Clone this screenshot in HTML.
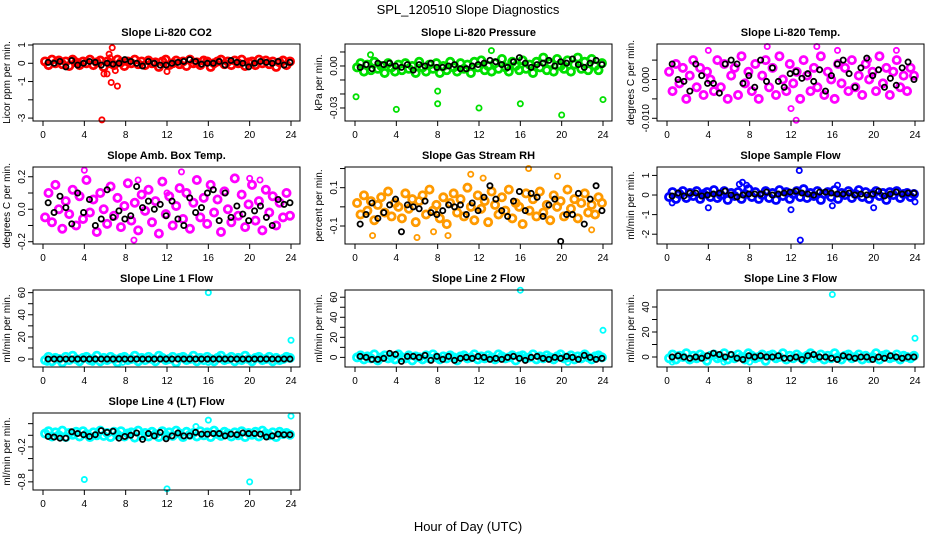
<!DOCTYPE html>
<html><head><meta charset="utf-8"><style>
html,body{margin:0;padding:0;background:#fff;}
svg{display:block;font-family:"Liberation Sans",Arial,sans-serif;}
</style></head><body>
<svg id="chart" width="936" height="540" viewBox="0 0 936 540" xmlns="http://www.w3.org/2000/svg">
<rect width="936" height="540" fill="#fff"/>
<text x="468" y="14" text-anchor="middle" font-size="13">SPL_120510  Slope Diagnostics</text>
<text x="468" y="531" text-anchor="middle" font-size="13">Hour of Day (UTC)</text>
</svg>
<script>
const hourTicks=[0,4,8,12,16,20,24];
// Panel 1 CO2
const co2Vals=[0.1,-0.1,0.2,0,0.15,-0.05,0.1,-0.15,0.2,0.05,-0.1,0.1,0,0.2,-0.1,0.05,0.15,-0.2,0.1,0,-0.1,0.2,0.05,-0.15,0.1,0,0.2,-0.05,0.1,-0.1,0.15,0,0.05,-0.2,0.1,0.2,-0.1,0,0.15,-0.05,0.1,-0.15,0.2,0,0.05,-0.1,0.15,0.1,-0.2,0,0.1,0.2,-0.05,0.1,-0.1,0.15,0,0.2,-0.15,0.05,0.1,-0.1,0.2,0,0.15,-0.05,0.1,-0.2,0.05,0.15,-0.1,0.1];
const co2Black=[0.05,0,0.1,-0.2,0.15,-0.1,0,0.1,0.05,-0.1,0,-0.05,0,0.2,0.1,0,-0.15,0.1,0,-0.1,-0.1,0,0.05,0.1,0.2,0.1,-0.05,0,0,0.1,-0.1,0.15,0.05,0,-0.2,0,0.1,0.05,0,0.1,-0.1,0.05];
const co2OutH=[5.7,6.6,7.2,6.7,6.4,5.9,6.2,12,6.5,7.0];
const co2OutV=[-3.1,-1.05,-1.25,0.85,0.5,-0.58,-0.58,-0.45,0.3,-0.4];
// Panel 2 pressure
const presVals=[-0.001,0.002,-0.004,0.001,-0.003,0.003,-0.002,0,-0.005,0.002,-0.001,-0.004,0.001,-0.003,0.002,-0.002,0,-0.005,0.003,-0.001,-0.004,0.001,-0.002,0.002,-0.005,0,-0.003,0.003,-0.001,-0.004,0.002,-0.002,0.001,-0.005,0.003,-0.001,0.004,-0.003,0,-0.004,0.002,-0.002,0.005,-0.001,-0.004,0.003,0,-0.003,0.004,-0.002,0.001,-0.005,0.003,-0.001,0.006,-0.003,0.002,-0.004,0.005,0,-0.002,0.004,-0.004,0.001,0.006,-0.002,0.003,-0.003,0.005,0,-0.003,0.002];
const presBlack=[-0.001,0.001,-0.002,0.002,0.001,0.002,0,-0.001,0.001,-0.003,0.001,0,0.002,-0.001,-0.001,0,0.001,-0.002,-0.002,0,0.001,0.002,0.004,0.003,0.001,-0.001,0.003,0.006,0.002,-0.001,0.001,0.002,0.004,0,0.003,0.002,0.005,0.001,-0.001,0.002,0.004,0.001];
const presOutH=[0.1,4,8,8,12,16,20,24,1.5,13.2];
const presOutV=[-0.022,-0.031,-0.018,-0.027,-0.03,-0.027,-0.035,-0.024,0.008,0.011];
// Panel 3 Li-820 temp
const tempVals=[0.002,-0.003,0.004,-0.001,0.003,-0.005,0.001,0.005,-0.002,0.003,-0.004,0.002,0,-0.003,0.005,-0.002,0.004,-0.005,0.001,0.003,-0.004,0.006,-0.001,0.002,-0.003,0.004,-0.005,0.001,0.005,-0.002,0.003,-0.004,0.006,0,-0.003,0.004,-0.001,0.002,-0.005,0.005,0.001,-0.003,0.003,-0.002,0.006,-0.004,0.002,0,-0.005,0.004,-0.001,0.003,-0.003,0.005,-0.002,0.001,-0.004,0.004,0,0.002,-0.003,0.006,-0.001,0.003,-0.004,0.002,0.005,-0.002,0.001,-0.003,0.003,0.001];
const tempBlack=[0.004,0,-0.0005,-0.003,0.004,0.001,-0.001,-0.001,-0.0035,0.004,0.005,0.004,-0.001,0.001,-0.002,0.005,-0.0005,0.003,-0.0005,-0.002,0.0015,0.002,0.0003,0.0015,-0.0005,0.0025,-0.003,0.001,0.004,0.005,0.0015,-0.002,0.003,0.0055,0.001,0.0025,-0.002,0.0003,-0.0015,0.003,0.0045,0];
const tempOutH=[9.7,12,12.5,4,14.5,19.5,22.2,16.5];
const tempOutV=[0.0085,-0.0075,-0.0105,0.0075,0.0085,0.005,0.0075,0.0075];
// Panel 4 amb box temp
const ambVals=[-0.05,0.1,-0.08,0.15,0,-0.12,0.05,-0.03,0.12,-0.1,0.08,-0.06,0.18,-0.02,0.06,-0.14,0.1,0,-0.09,0.14,-0.04,0.07,-0.11,0.02,0.16,-0.07,0.04,-0.13,0.09,-0.01,0.12,-0.08,0.05,-0.15,0.17,-0.03,0.08,-0.1,0.02,0.13,-0.06,0.1,-0.12,0.04,0.18,-0.05,0.07,-0.09,0.15,-0.02,0.06,-0.14,0.11,0,-0.08,0.19,-0.04,0.09,-0.11,0.03,0.15,-0.07,0.05,-0.13,0.12,-0.02,0.08,-0.1,0.04,-0.05,0.1,-0.04];
const ambBlack=[0.04,-0.02,0.08,0.01,-0.09,0.1,-0.02,0.06,-0.1,-0.06,0.12,-0.05,-0.01,-0.06,-0.04,0.14,0.01,0.05,0,0.03,-0.04,0.05,-0.06,-0.1,0.07,-0.02,0.01,0.1,0.12,-0.07,0.1,-0.05,0.02,-0.03,-0.07,-0.01,0.02,-0.05,-0.1,0.06,0.03,0.04];
const ambOutH=[4,8.8,9.2,12,20,21,13.4];
const ambOutV=[0.24,-0.19,0.18,0.1,0.19,0.18,0.23];
// Panel 5 gas stream RH
const rhVals=[0.02,-0.04,0.06,-0.02,0.03,-0.07,0.01,0.05,-0.03,0.08,-0.05,0.02,0,-0.06,0.07,-0.01,0.04,-0.08,0.03,0.06,-0.04,0.09,-0.02,0.01,-0.06,0.05,-0.09,0.02,0.07,-0.03,0.04,-0.05,0.1,0,-0.07,0.06,-0.01,0.03,-0.08,0.08,0.01,-0.04,0.05,-0.02,0.09,-0.06,0.02,0,-0.09,0.07,-0.02,0.04,-0.05,0.08,-0.03,0.01,-0.07,0.06,0,0.03,-0.05,0.09,-0.01,0.04,-0.06,0.02,0.07,-0.03,0.01,-0.04,0.05,0.02];
const rhBlack=[-0.09,-0.04,0.02,-0.06,-0.03,0.01,0.04,-0.13,0.01,0,-0.01,0.03,-0.03,-0.04,-0.02,0.01,0,0.01,-0.04,0.02,-0.02,0.05,0.11,0.04,-0.02,-0.05,0.03,0.08,-0.02,0.07,0.05,-0.05,0.01,0.04,-0.18,-0.04,-0.04,0.07,-0.09,0.04,0.11,-0.02];
const rhOutH=[1.7,6,7.6,9,11.2,16.8,12.4,19.6,22.9];
const rhOutV=[-0.15,-0.16,-0.13,-0.15,0.17,0.2,0.15,0.16,-0.12];
// Panel 6 sample flow
const sfVals=[-0.1,0.15,-0.2,0.05,0.2,-0.15,0.1,-0.05,0.2,-0.2,0.05,0.15,-0.1,0.25,-0.15,0,0.2,-0.25,0.1,-0.05,0.15,-0.2,0.05,0.3,-0.1,0.15,-0.2,0,0.2,-0.15,0.1,-0.25,0.25,-0.05,0.15,-0.2,0.05,0.2,-0.1,0.3,-0.15,0.1,-0.05,0.2,-0.25,0.05,0.15,-0.1,0.25,-0.2,0.1,0,0.2,-0.15,0.05,0.25,-0.1,0.15,-0.2,0.05,0.2,-0.05,0.1,-0.25,0.15,0,0.2,-0.15,0.05,0.1,-0.1,0.05];
const sfBlack=[-0.05,0.1,-0.05,0.1,0.1,-0.05,0,0.05,0.1,0.2,0,-0.1,0,0.05,0.05,0.05,0.15,0,0.05,0.1,0.15,0.2,0.1,0.05,0,0.15,0.15,0.1,0.05,0.05,0.1,0,0.05,0,0.05,0.2,-0.05,0.05,0.15,0.05,0.1,0.1];
const sfOutH=[12.8,12.9,4,7,7.3,7.7,12,16,20,16.5,24,0.5];
const sfOutV=[1.25,-2.3,-0.65,0.55,0.65,0.5,-0.75,-0.55,-0.65,0.5,-0.35,-0.4];
// Panel 7 line 1 flow
const l1Vals=[-1,2,-2,1,0,-3,2,-1,3,0,-2,1,2,-1,0,3,-2,1,-1,2,0,-3,1,2,-1,0,3,-2,1,-1,2,0,-2,3,1,-1,0,2,-3,1,2,-1,0,3,-2,1,-1,2,0,-2,1,3,-1,0,2,-2,1,-1,3,0,-2,1,2,-1,0,2,-2,1,-1,0,2,1];
const l1Black=[0,0,0,0,0,0,0,0,0,0,0,0,0,0,0,0,0,0,0,0,0,0,0,0,0,0,0,0,0,0,0,0,0,0,0,0,0,0,0,0,0,0];
const l1OutH=[16,24,4.8,7.7,16,0.4];
const l1OutV=[60,17,-3,-3,-3,-3];
// Panel 8 line 2 flow
const l2Vals=[0,2,-2,1,-1,3,-3,0,2,-1,1,-2,3,0,-1,2,-3,1,0,-2,2,-1,3,0,-2,1,-1,2,0,-3,1,2,-1,0,3,-2,1,-1,2,0,-2,3,1,-1,0,2,-3,1,2,-1,0,3,-2,1,-1,2,0,-2,1,3,-1,0,2,-2,1,-1,3,0,-2,1,2,0];
const l2Black=[1,0,-2,-2,-1,4,3,-4,1,1,0,2,-3,1,-2,1,-3,-1,0,-1,1,0,-2,-1,-2,0,1,-1,-3,0,1,-1,-2,0,-1,1,0,-2,2,0,-2,-1];
const l2OutH=[16,24,20.6];
const l2OutV=[67,27,-5];
// Panel 9 line 3 flow
const l3Vals=[-1,2,-2,1,0,3,-2,1,-1,2,0,-3,1,2,-1,0,3,-2,1,-1,2,0,-2,3,1,-1,0,2,-3,1,2,-1,0,3,-2,1,-1,2,0,-2,1,3,-1,0,2,-2,1,-1,3,0,-2,1,2,-1,0,2,-2,1,-1,0,3,-2,1,2,-1,0,2,-2,1,0,-1,1];
const l3Black=[0,1,0,-1,0,-1,1,3,2,0,2,-1,-2,1,0,1,0,0,1,-1,-1,0,-2,1,2,0,0,-1,-2,1,0,-1,0,0,-2,0,-1,1,0,-1,0,0];
const l3OutH=[16,24,5.5,8,0.5];
const l3OutV=[50,15,-4,-4,-4];
// Panel 10 line 4 flow
const l4Vals=[0.03,0.07,-0.02,0.05,0,0.08,-0.03,0.04,0.01,0.06,-0.02,0.07,0.02,-0.03,0.05,0,0.08,-0.01,0.04,-0.03,0.06,0.01,0.07,-0.02,0.03,0.05,-0.04,0.08,0,0.04,-0.02,0.06,0.02,-0.03,0.07,0,0.05,-0.01,0.08,0.03,-0.03,0.06,0.01,0.04,-0.02,0.07,0,0.05,-0.03,0.08,0.02,-0.01,0.06,0.03,-0.02,0.05,0,0.07,-0.03,0.04,0.01,0.06,-0.02,0.08,0.03,0,0.05,-0.03,0.06,0.02,0.04,0.01];
const l4Black=[-0.02,-0.03,-0.05,-0.05,0.06,0.03,0.01,-0.02,0.01,0.08,0.05,0.07,-0.05,-0.02,0,0.04,-0.07,0.03,-0.01,0.05,-0.06,-0.01,0.04,-0.01,-0.01,0.05,0.02,0.02,0.03,0.03,-0.01,0.02,0.01,0.04,0.03,0.03,0.02,-0.03,-0.01,0.02,0.01,0.01];
const l4OutH=[4,12,16,20,24,14.8];
const l4OutV=[-0.76,-0.92,0.26,-0.8,0.33,0.15];

const NS='http://www.w3.org/2000/svg';
const svg=document.getElementById('chart');
function mk(tag,attrs,parent){const e=document.createElementNS(NS,tag);for(const k in attrs)e.setAttribute(k,attrs[k]);(parent||svg).appendChild(e);return e;}

const panels=[
 {col:0,row:0,title:'Slope Li-820 CO2',ylab:'Licor ppm per min.',ymin:-3.16,ymax:1.055,ticks:[1,0,-1,-2,-3],labels:['1','0','-1','','-3'],color:'#ff0000',vals:co2Vals,blk:co2Black,oh:co2OutH,ov:co2OutV},
 {col:1,row:0,title:'Slope Li-820 Pressure',ylab:'kPa per min.',ymin:-0.0393,ymax:0.0157,ticks:[0.01,0,-0.01,-0.02,-0.03],labels:['','0.00','','','-0.03'],color:'#00e000',vals:presVals,blk:presBlack,oh:presOutH,ov:presOutV},
 {col:2,row:0,title:'Slope Li-820 Temp.',ylab:'degrees C per min.',ymin:-0.0107,ymax:0.00915,ticks:[0.005,0,-0.005,-0.01],labels:['','0.000','','-0.010'],color:'#ff00ff',vals:tempVals,blk:tempBlack,oh:tempOutH,ov:tempOutV},
 {col:0,row:1,title:'Slope Amb. Box Temp.',ylab:'degrees C per min.',ymin:-0.214,ymax:0.26,ticks:[0.2,0.1,0,-0.1,-0.2],labels:['0.2','','0.0','','-0.2'],color:'#ff00ff',vals:ambVals,blk:ambBlack,oh:ambOutH,ov:ambOutV},
 {col:1,row:1,title:'Slope Gas Stream RH',ylab:'percent per min.',ymin:-0.194,ymax:0.208,ticks:[0.2,0.1,0,-0.1],labels:['','0.1','','-0.1'],color:'#ff9a00',vals:rhVals,blk:rhBlack,oh:rhOutH,ov:rhOutV},
 {col:2,row:1,title:'Slope Sample Flow',ylab:'ml/min per min.',ymin:-2.5,ymax:1.43,ticks:[1,0,-1,-2],labels:['1','0','-1','-2'],color:'#0000ff',vals:sfVals,blk:sfBlack,oh:sfOutH,ov:sfOutV},
 {col:0,row:2,title:'Slope Line 1 Flow',ylab:'ml/min per min.',ymin:-7.2,ymax:62.4,ticks:[0,10,20,30,40,50,60],labels:['0','','20','','40','','60'],color:'#00ffff',vals:l1Vals,blk:l1Black,oh:l1OutH,ov:l1OutV},
 {col:1,row:2,title:'Slope Line 2 Flow',ylab:'ml/min per min.',ymin:-9.6,ymax:67.2,ticks:[0,10,20,30,40,50,60],labels:['0','','20','','40','','60'],color:'#00ffff',vals:l2Vals,blk:l2Black,oh:l2OutH,ov:l2OutV},
 {col:2,row:2,title:'Slope Line 3 Flow',ylab:'ml/min per min.',ymin:-8,ymax:53.6,ticks:[0,10,20,30,40],labels:['0','','20','','40'],color:'#00ffff',vals:l3Vals,blk:l3Black,oh:l3OutH,ov:l3OutV},
 {col:0,row:3,title:'Slope Line 4 (LT) Flow',ylab:'ml/min per min.',ymin:-0.94,ymax:0.383,ticks:[0.2,0,-0.2,-0.4,-0.6,-0.8],labels:['','','-0.2','','','-0.8'],color:'#00ffff',vals:l4Vals,blk:l4Black,oh:l4OutH,ov:l4OutV}
];

panels.forEach((p,pi)=>{
  const bx=33+p.col*312, bw=267, by=44+p.row*123, bh=77;
  const x0=bx+10, xs=(bw-19)/24;
  const X=h=>x0+h*xs;
  const Y=v=>by+bh-(v-p.ymin)/(p.ymax-p.ymin)*bh;
  const g=mk('g',{});
  
  
  const t=mk('text',{x:bx+bw/2,y:by-8,'text-anchor':'middle','font-size':11,'font-weight':'bold'},g);
  t.textContent=p.title;
  
  
  const yl=mk('text',{x:0,y:0,'text-anchor':'middle','font-size':10,transform:`translate(${bx-23},${by+bh/2}) rotate(-90)`},g);
  yl.textContent=p.ylab;
  
  
  const pts=mk('g',{fill:'none'},g);
  
  
  p.vals.forEach((v,i)=>{
    const h=0.2+i*23.7/(p.vals.length-1);
    const c=mk('circle',{cx:X(h),cy:Y(v),r:3.6,stroke:p.color,'stroke-width':2.8},pts);
    
    
  });
  p.oh.forEach((h,i)=>{
    const c=mk('circle',{cx:X(h),cy:Y(p.ov[i]),r:2.6,stroke:p.color,'stroke-width':1.8},pts);
    
    
  });
  p.blk.forEach((v,i)=>{
    const h=0.5+i*23.4/(p.blk.length-1);
    const c=mk('circle',{cx:X(h),cy:Y(v),r:2.6,stroke:'#000','stroke-width':1.8},pts);
    
    
  });
  const box=mk('rect',{x:bx,y:by,width:bw,height:bh,fill:'none',stroke:'#000','stroke-width':1},g);
  
  
  hourTicks.forEach(h=>{
    mk('line',{x1:X(h),x2:X(h),y1:by+bh,y2:by+bh+5,stroke:'#000'},g);
    const tl=mk('text',{x:X(h),y:by+bh+17,'text-anchor':'middle','font-size':10},g);
    tl.textContent=h;
    
    
  });
  p.ticks.forEach((v,i)=>{
    mk('line',{x1:bx-5,x2:bx,y1:Y(v),y2:Y(v),stroke:'#000'},g);
    if(p.labels[i]){
      const tl=mk('text',{x:0,y:0,'text-anchor':'middle','font-size':10,transform:`translate(${bx-8},${Y(v)}) rotate(-90)`},g);
      tl.textContent=p.labels[i];
      
      
    }
  });
});
</script>
</body></html>
